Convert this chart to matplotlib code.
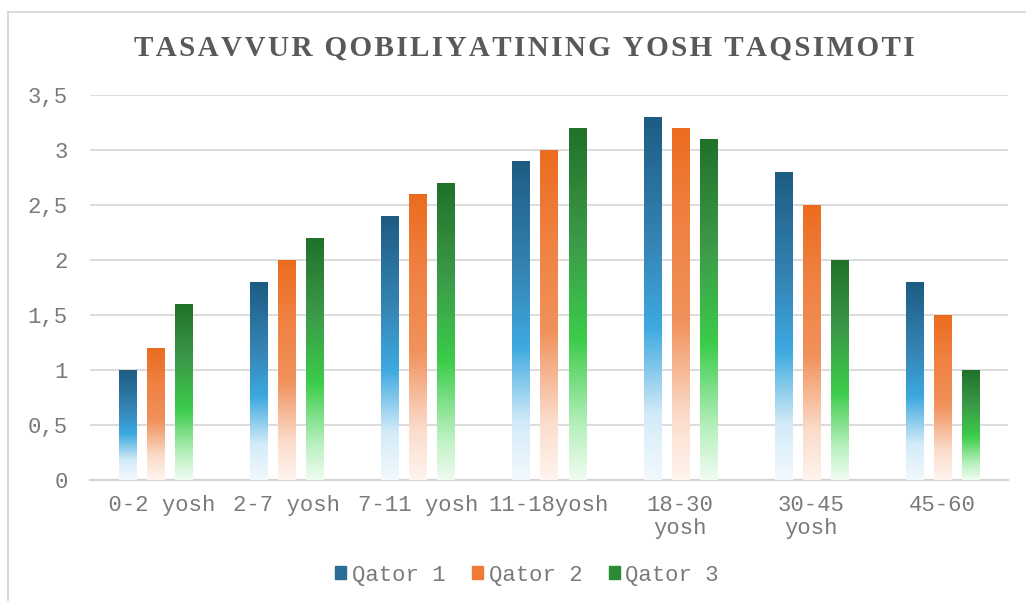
import numpy as np
import matplotlib
matplotlib.use('Agg')
import matplotlib.pyplot as plt
from matplotlib.colors import LinearSegmentedColormap
from matplotlib.patches import Rectangle
from matplotlib.lines import Line2D

# Data
categories = [' 0-2 yosh', '2-7 yosh', '7-11 yosh', '11-18yosh', '18-30\nyosh', '30-45\nyosh', '45-60']
series_names = ['Qator 1', 'Qator 2', 'Qator 3']
qator1 = [1.0, 1.8, 2.4, 2.9, 3.3, 2.8, 1.8]
qator2 = [1.2, 2.0, 2.6, 3.0, 3.2, 2.5, 1.5]
qator3 = [1.6, 2.2, 2.7, 3.2, 3.1, 2.0, 1.0]
yticks = [0, 0.5, 1, 1.5, 2, 2.5, 3, 3.5]
ytick_labels = ['0', '0,5', '1', '1,5', '2', '2,5', '3', '3,5']
title = 'TASAVVUR QOBILIYATINING YOSH TAQSIMOTI'

# gradients, bottom -> top
grad_blue = LinearSegmentedColormap.from_list('b', [(0, '#f2f9fd'), (0.18, '#d3ebf8'), (0.42, '#3da9e0'),
                                                     (0.65, '#3585b5'), (1, '#1d5c83')])
grad_orange = LinearSegmentedColormap.from_list('o', [(0, '#fff4ee'), (0.18, '#fbdccb'), (0.45, '#f1925c'),
                                                       (0.75, '#ef8040'), (1, '#ec6c1f')])
grad_green = LinearSegmentedColormap.from_list('g', [(0, '#f0fcf1'), (0.15, '#b8f0be'), (0.4, '#3ccc4a'),
                                                      (0.7, '#3b9748'), (1, '#1f7228')])
cmaps = [grad_blue, grad_orange, grad_green]
solid = ['#2a6d96', '#ee7a35', '#2a8a35']

fig = plt.figure(figsize=(10.26, 6.01), dpi=100)
fig.patch.set_facecolor('white')

# chart frame (left + top edges visible)
fig.add_artist(Line2D([8/1026, 8/1026], [0, 1 - 12/601], transform=fig.transFigure, color='#d4d4d4', lw=1.2))
fig.add_artist(Line2D([8/1026, 1], [1 - 12/601, 1 - 12/601], transform=fig.transFigure, color='#d4d4d4', lw=1.2))

ax = fig.add_axes([90/1026, 121/601, 918/1026, 385/601])

width = 0.13
step = 0.214
grad = np.linspace(0, 1, 256).reshape(-1, 1)
for s, vals in enumerate([qator1, qator2, qator3]):
    for i, v in enumerate(vals):
        x0 = i + (s - 1) * step - width / 2
        ax.imshow(grad, cmap=cmaps[s], origin='lower', aspect='auto', interpolation='bilinear',
                  extent=[x0, x0 + width, 0, v], zorder=3)
ax.set_xlim(-0.5, len(categories) - 0.5)
ax.set_ylim(0, 3.5)

ax.set_yticks(yticks)
ax.set_yticklabels(ytick_labels)
ax.set_xticks(range(len(categories)))
ax.set_xticklabels(categories, linespacing=1.1)
ax.yaxis.grid(True, color='#d9d9d9', lw=1.3, zorder=0)
ax.set_axisbelow(True)
for sp in ['top', 'right', 'left']:
    ax.spines[sp].set_visible(False)
ax.spines['bottom'].set_color('#d4d4d4')
ax.spines['bottom'].set_linewidth(1.6)
ax.tick_params(axis='both', length=0, labelsize=16, labelcolor='#7a7a7a')
ax.tick_params(axis='y', pad=16)
ax.tick_params(axis='x', pad=11)
for lbl in ax.get_xticklabels() + ax.get_yticklabels():
    lbl.set_family('Liberation Mono')

# letter-spaced title (hair spaces between characters)
spaced = '\u200a'.join(title)
fig.text(524/1026, 1 - 48/601, spaced, ha='center', va='center',
         fontsize=21, fontweight='bold', family=['Liberation Serif', 'DejaVu Serif'], color='#595959')

handles = [Rectangle((0, 0), 1, 1, color=c) for c in solid]
leg = fig.legend(handles, series_names, loc='center', bbox_to_anchor=(527/1026, 1 - 575/601),
                 ncol=3, frameon=False, handlelength=0.5, handleheight=0.5, handletextpad=0.25,
                 columnspacing=1.2, prop={'family': 'Liberation Mono', 'size': 16})
for t in leg.get_texts():
    t.set_color('#7a7a7a')

fig.savefig('out.png', dpi=100, facecolor='white')
